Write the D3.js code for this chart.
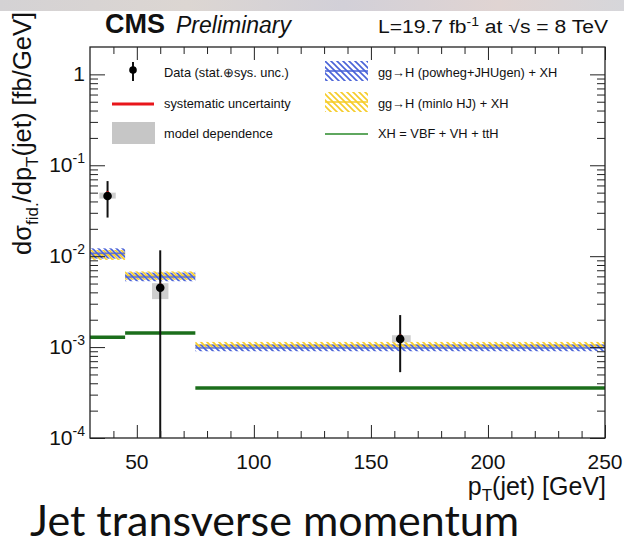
<!DOCTYPE html>
<html>
<head>
<meta charset="utf-8">
<script src="https://cdn.jsdelivr.net/npm/d3@7"></script>
<style>
  body { margin: 0; background: #fff; }
  svg { display: block; font-family: "Liberation Sans", Arial, sans-serif; }
</style>
</head>
<body>
<svg id="chart" width="624" height="546"></svg>
<script>
// bins in pT(jet) [GeV]
const binEdges = [30, 45, 75, 250];

// measured points
const dataX = [37.5, 60, 162.5];
const dataY = [0.046, 0.0045, 0.00123];
const statHi = [0.067, 0.0116, 0.00225];
const statLo = [0.0266, 0.00001, 0.00053];
const sysHi = [0.052, 0.0050, 0.00138];
const sysLo = [0.046, 0.0045, 0.00123];
// model dependence boxes
const modelX0 = [34, 56.5, 159];
const modelX1 = [41, 63.5, 167];
const modelLo = [0.043, 0.00337, 0.00113];
const modelHi = [0.050, 0.00505, 0.00135];

// theory predictions per bin
const powhegMid = [0.0108, 0.0059, 0.00098];
const powhegLo = [0.0094, 0.0053, 0.00090];
const powhegHi = [0.0122, 0.0066, 0.00107];
const minloMid = [0.0104, 0.0061, 0.00105];
const minloLo = [0.0091, 0.0055, 0.00097];
const minloHi = [0.0117, 0.0068, 0.00114];
const xhVals = [0.00128, 0.00143, 0.000355];

const xMajor = [50, 100, 150, 200, 250];
const yMajor = [1e-4, 1e-3, 1e-2, 1e-1, 1];
const yLabels = [["10", "-4"], ["10", "-3"], ["10", "-2"], ["10", "-1"], ["1", ""]];

const svg = d3.select("#chart");
const margin = { top: 47, left: 90, right: 19, bottom: 108 };
const width = 624, height = 546;
const x = d3.scaleLinear().domain([30, 250]).range([margin.left, width - margin.right]);
const y = d3.scaleLog().domain([1e-4, 2]).range([height - margin.bottom, margin.top]);

// blurry slide strip on top
const defs = svg.append("defs");
const grad = defs.append("linearGradient").attr("id", "strip");
[["0%", "#d4d2d4"], ["30%", "#dcd6d2"], ["55%", "#d2d0d8"], ["80%", "#e0d4d2"], ["100%", "#d6d6da"]]
  .forEach(s => grad.append("stop").attr("offset", s[0]).attr("stop-color", s[1]));
svg.append("rect").attr("x", 0).attr("y", 0).attr("width", width).attr("height", 11).attr("fill", "url(#strip)");

function hatch(id, color, off) {
  const p = defs.append("pattern").attr("id", id).attr("patternUnits", "userSpaceOnUse")
    .attr("width", 6).attr("height", 6).attr("patternTransform", `translate(${off},0)`);
  p.append("path").attr("d", "M0,0L6,6M-1,5L1,7M5,-1L7,1")
    .attr("stroke", color).attr("stroke-width", 1.6).attr("fill", "none");
}
hatch("hatchBlue", "#4a63d8", 0);
hatch("hatchYellow", "#f6cc2a", 3);

defs.append("clipPath").attr("id", "frameClip").append("rect")
  .attr("x", margin.left).attr("y", margin.top)
  .attr("width", x.range()[1] - margin.left).attr("height", y.range()[0] - margin.top);

const plot = svg.append("g").attr("clip-path", "url(#frameClip)");
const bins = d3.range(binEdges.length - 1);

// bands
function band(lo, hi, mid, fill, lineColor) {
  plot.selectAll(null).data(bins).enter().append("rect")
    .attr("x", i => x(binEdges[i])).attr("width", i => x(binEdges[i + 1]) - x(binEdges[i]))
    .attr("y", i => y(hi[i])).attr("height", i => y(lo[i]) - y(hi[i]))
    .attr("fill", fill);
  plot.selectAll(null).data(bins).enter().append("line")
    .attr("x1", i => x(binEdges[i])).attr("x2", i => x(binEdges[i + 1]))
    .attr("y1", i => y(mid[i])).attr("y2", i => y(mid[i]))
    .attr("stroke", lineColor).attr("stroke-width", 1.5).attr("opacity", 0.8);
}
band(minloLo, minloHi, minloMid, "url(#hatchYellow)", "#f6cc2a");
band(powhegLo, powhegHi, powhegMid, "url(#hatchBlue)", "#4a63d8");

// XH line
plot.selectAll(null).data(bins).enter().append("line")
  .attr("x1", i => x(binEdges[i])).attr("x2", i => x(binEdges[i + 1]))
  .attr("y1", i => y(xhVals[i])).attr("y2", i => y(xhVals[i]))
  .attr("stroke", "#1b6e1b").attr("stroke-width", 3.5);

// model dependence
plot.selectAll(null).data(dataX).enter().append("rect")
  .attr("x", (d, i) => x(modelX0[i])).attr("width", (d, i) => x(modelX1[i]) - x(modelX0[i]))
  .attr("y", (d, i) => y(modelHi[i])).attr("height", (d, i) => y(modelLo[i]) - y(modelHi[i]))
  .attr("fill", "#c6c6c6").attr("opacity", 0.85);

// stat+sys error bars
plot.selectAll(null).data(dataX).enter().append("line")
  .attr("x1", d => x(d)).attr("x2", d => x(d))
  .attr("y1", (d, i) => y(statHi[i])).attr("y2", (d, i) => Math.min(y(statLo[i]), y.range()[0]))
  .attr("stroke", "#111").attr("stroke-width", 2);
plot.selectAll(null).data(dataX).enter().append("line")
  .attr("x1", d => x(d)).attr("x2", d => x(d))
  .attr("y1", (d, i) => y(sysHi[i])).attr("y2", (d, i) => y(sysLo[i]))
  .attr("stroke", "#e8161b").attr("stroke-width", 2.2);
plot.selectAll(null).data(dataX).enter().append("circle")
  .attr("cx", d => x(d)).attr("cy", (d, i) => y(dataY[i])).attr("r", 4.3)
  .attr("fill", "#000");

// frame and ticks (ROOT style, inward)
const x0 = x.range()[0], x1 = x.range()[1], y0 = y.range()[0], y1 = y.range()[1];
const xMinor = d3.range(40, 251, 10).filter(v => v % 50 !== 0);
const yMinor = [];
[-4, -3, -2, -1, 0].forEach(k => d3.range(2, 10).forEach(m => { const v = m * Math.pow(10, k); if (v < 2) yMinor.push(v); }));

function axisG(axis, tx, ty) {
  const g = svg.append("g").attr("transform", `translate(${tx},${ty})`).call(axis);
  g.select(".domain").remove();
  g.selectAll(".tick line").attr("stroke", "#222").attr("stroke-width", 1);
  return g;
}
axisG(d3.axisBottom(x).tickValues(xMajor).tickSize(-13).tickFormat(""), 0, y0);
axisG(d3.axisBottom(x).tickValues(xMinor).tickSize(-7).tickFormat(""), 0, y0);
axisG(d3.axisTop(x).tickValues(xMajor).tickSize(-13).tickFormat(""), 0, y1);
axisG(d3.axisTop(x).tickValues(xMinor).tickSize(-7).tickFormat(""), 0, y1);
axisG(d3.axisLeft(y).tickValues(yMajor).tickSize(-15).tickFormat(""), x0, 0);
axisG(d3.axisLeft(y).tickValues(yMinor).tickSize(-8).tickFormat(""), x0, 0);
axisG(d3.axisRight(y).tickValues(yMajor).tickSize(-15).tickFormat(""), x1, 0);
axisG(d3.axisRight(y).tickValues(yMinor).tickSize(-8).tickFormat(""), x1, 0);

svg.append("rect").attr("x", x0).attr("y", y1).attr("width", x1 - x0).attr("height", y0 - y1)
  .attr("fill", "none").attr("stroke", "#222").attr("stroke-width", 1.3);

// tick labels
svg.selectAll(null).data(xMajor).enter().append("text")
  .attr("x", d => x(d)).attr("y", 469).attr("text-anchor", "middle")
  .attr("font-size", 21).attr("fill", "#111").text(d => d);

yMajor.forEach((v, i) => {
  const t = svg.append("text").attr("x", 85).attr("y", y(v) + 7).attr("text-anchor", "end")
    .attr("font-size", 21).attr("fill", "#111");
  t.append("tspan").text(yLabels[i][0]);
  if (yLabels[i][1]) t.append("tspan").attr("dy", -9).attr("font-size", 14).text(yLabels[i][1]);
});

// axis titles
const xt = svg.append("text").attr("x", 606).attr("y", 495).attr("text-anchor", "end")
  .attr("font-size", 25).attr("fill", "#111");
xt.append("tspan").text("p");
xt.append("tspan").attr("dy", 6).attr("font-size", 17).text("T");
xt.append("tspan").attr("dy", -6).text("(jet) [GeV]");

const yt = svg.append("text").attr("transform", "translate(31,12) rotate(-90)")
  .attr("text-anchor", "end").attr("font-size", 25.5).attr("fill", "#111");
yt.append("tspan").text("dσ");
yt.append("tspan").attr("dy", 7).attr("font-size", 17).text("fid.");
yt.append("tspan").attr("dy", -7).text("/dp");
yt.append("tspan").attr("dy", 7).attr("font-size", 17).text("T");
yt.append("tspan").attr("dy", -7).text("(jet) [fb/GeV]");

// header
svg.append("text").attr("x", 105).attr("y", 33).attr("font-size", 27).attr("font-weight", "bold")
  .attr("fill", "#111").text("CMS");
svg.append("text").attr("x", 176).attr("y", 33).attr("font-size", 23).attr("font-style", "italic")
  .attr("fill", "#111").text("Preliminary");
const lumi = svg.append("text").attr("x", 378).attr("y", 33)
  .attr("font-size", 18).attr("textLength", 230).attr("lengthAdjust", "spacingAndGlyphs").attr("fill", "#111");
lumi.append("tspan").text("L=19.7 fb");
lumi.append("tspan").attr("dy", -7).attr("font-size", 12).text("-1");
lumi.append("tspan").attr("dy", 7).text(" at √s = 8 TeV");

// legend
const leg = svg.append("g").attr("font-size", 12.8).attr("fill", "#111");
const legRows = [73, 104, 134];
// data marker
leg.append("line").attr("x1", 133).attr("x2", 133).attr("y1", 62).attr("y2", 81).attr("stroke", "#111").attr("stroke-width", 2);
leg.append("circle").attr("cx", 133).attr("cy", 70).attr("r", 3.8).attr("fill", "#000");
leg.append("line").attr("x1", 112).attr("x2", 154).attr("y1", legRows[1]).attr("y2", legRows[1]).attr("stroke", "#e8161b").attr("stroke-width", 3);
leg.append("rect").attr("x", 112).attr("y", 122).attr("width", 43).attr("height", 22).attr("fill", "#c6c6c6");
["Data (stat.⊕sys. unc.)", "systematic uncertainty", "model dependence"].forEach((t, i) =>
  leg.append("text").attr("x", 164).attr("y", legRows[i] + 4).text(t));

leg.append("rect").attr("x", 325).attr("y", 61).attr("width", 43).attr("height", 20).attr("fill", "url(#hatchBlue)");
leg.append("line").attr("x1", 325).attr("x2", 368).attr("y1", 71).attr("y2", 71).attr("stroke", "#4a63d8").attr("stroke-width", 1.5);
leg.append("rect").attr("x", 325).attr("y", 92).attr("width", 43).attr("height", 20).attr("fill", "url(#hatchYellow)");
leg.append("line").attr("x1", 325).attr("x2", 368).attr("y1", 102).attr("y2", 102).attr("stroke", "#f6cc2a").attr("stroke-width", 1.5);
leg.append("line").attr("x1", 325).attr("x2", 368).attr("y1", legRows[2]).attr("y2", legRows[2]).attr("stroke", "#2a8a2a").attr("stroke-width", 1.5);
["gg→H (powheg+JHUgen) + XH", "gg→H (minlo HJ) + XH", "XH = VBF + VH + ttH"].forEach((t, i) =>
  leg.append("text").attr("x", 378).attr("y", legRows[i] + 4).text(t));

// slide caption
svg.append("text").attr("x", 30).attr("y", 536).style("font-family", "Lato, 'Open Sans', sans-serif")
  .attr("font-size", 43).attr("fill", "#111").text("Jet transverse momentum");
</script>
</body>
</html>
